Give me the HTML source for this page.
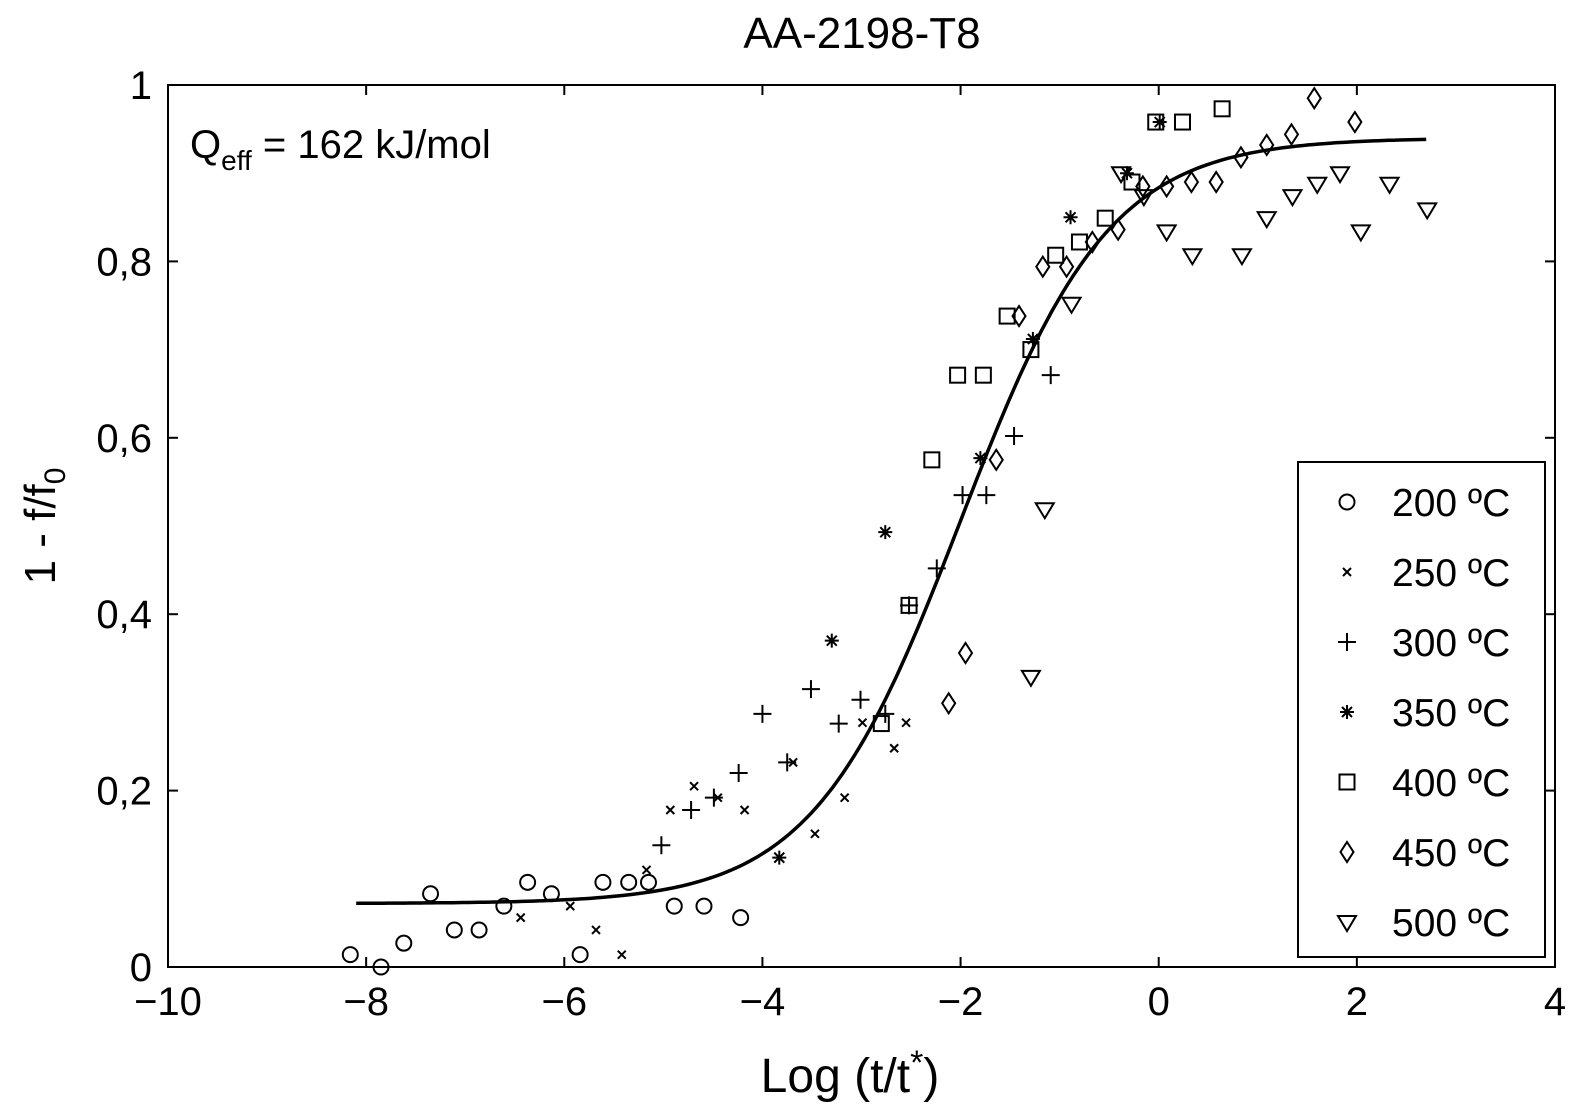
<!DOCTYPE html>
<html><head><meta charset="utf-8"><style>
body{margin:0;background:#fff}
svg{display:block;font-family:"Liberation Sans",Arial,sans-serif}
</style></head><body>
<svg id="chart" width="1574" height="1111">
<text x="862" y="48" font-size="44" text-anchor="middle">AA-2198-T8</text>
<rect x="168" y="85" width="1387" height="882" fill="none" stroke="#000" stroke-width="2"/>
<g id="axes"></g>
<g id="marks"></g>
<text x="190" y="158" font-size="40">Q<tspan font-size="28" dy="12">eff</tspan><tspan dy="-12"> = 162 kJ/mol</tspan></text>
<text x="850" y="1092" font-size="48" text-anchor="middle">Log (t/t<tspan font-size="34" dy="-18">*</tspan><tspan dy="18">)</tspan></text>
<text transform="translate(55,526) rotate(-90)" font-size="44" text-anchor="middle">1 - f/f<tspan font-size="30" dy="10">0</tspan></text>
<rect x="1298" y="462" width="247" height="495" fill="#fff" stroke="#000" stroke-width="2"/>
<g id="legend"></g>
</svg>
<script>
const xTicks=[-10,-8,-6,-4,-2,0,2,4];
const yTicks=[0,0.2,0.4,0.6,0.8,1];
const yTickLabels=["0","0,2","0,4","0,6","0,8","1"];
const seriesNames=["200 ºC","250 ºC","300 ºC","350 ºC","400 ºC","450 ºC","500 ºC"];
const seriesMarkers=["circle","x","plus","star","square","diamond","tri"];
const s200x=[-8.16,-7.85,-7.62,-7.35,-7.11,-6.86,-6.61,-6.37,-6.13,-5.84,-5.61,-5.35,-5.15,-4.89,-4.59,-4.22];
const s200y=[0.014,0,0.027,0.083,0.042,0.042,0.069,0.096,0.083,0.014,0.096,0.096,0.096,0.069,0.069,0.056];
const s250x=[-6.44,-5.94,-5.68,-5.42,-5.17,-4.93,-4.69,-4.45,-4.18,-3.69,-3.47,-3.17,-2.99,-2.67,-2.55];
const s250y=[0.056,0.069,0.042,0.014,0.11,0.178,0.205,0.192,0.178,0.232,0.151,0.192,0.277,0.248,0.277];
const s300x=[-5.02,-4.72,-4.49,-4.24,-4.00,-3.75,-3.51,-3.23,-3.01,-2.76,-2.52,-2.24,-1.98,-1.74,-1.46,-1.09];
const s300y=[0.138,0.178,0.192,0.22,0.287,0.232,0.315,0.276,0.303,0.287,0.41,0.452,0.535,0.535,0.602,0.671];
const s350x=[-3.83,-3.30,-2.76,-1.80,-1.27,-0.89,-0.32,0.01];
const s350y=[0.124,0.37,0.493,0.577,0.712,0.85,0.90,0.958];
const s400x=[-2.80,-2.52,-2.29,-2.03,-1.77,-1.53,-1.29,-1.04,-0.80,-0.54,-0.27,-0.03,0.24,0.64];
const s400y=[0.276,0.41,0.575,0.671,0.671,0.738,0.70,0.807,0.822,0.849,0.89,0.958,0.958,0.973];
const s450x=[-2.12,-1.95,-1.64,-1.41,-1.17,-0.93,-0.67,-0.41,-0.16,0.08,0.33,0.58,0.83,1.09,1.34,1.57,1.98];
const s450y=[0.299,0.356,0.575,0.738,0.794,0.794,0.822,0.836,0.885,0.885,0.89,0.89,0.918,0.932,0.944,0.985,0.958];
const s500x=[-1.29,-1.15,-0.88,-0.38,-0.15,0.08,0.34,0.84,1.09,1.35,1.60,1.83,2.04,2.33,2.71];
const s500y=[0.329,0.519,0.752,0.90,0.874,0.834,0.807,0.807,0.849,0.874,0.888,0.90,0.834,0.888,0.859];
const fitParams=[0.072,0.94,-2.0,0.75];
const fitRange=[-8.1,2.7];

const NS="http://www.w3.org/2000/svg";
const X=v=>168+(v+10)*1387/14;
const Y=v=>967-v*882;
function mk(tag,attrs,parent){const e=document.createElementNS(NS,tag);for(const k in attrs)e.setAttribute(k,attrs[k]);parent.appendChild(e);return e;}
const axes=document.getElementById('axes'),marks=document.getElementById('marks'),leg=document.getElementById('legend');
xTicks.forEach(t=>{
  const g=mk('g',{},axes);
  
  
  mk('line',{x1:X(t),x2:X(t),y1:967,y2:957,stroke:'#000','stroke-width':2},g);
  mk('line',{x1:X(t),x2:X(t),y1:85,y2:95,stroke:'#000','stroke-width':2},g);
  const tx=mk('text',{x:X(t),y:1015,'font-size':40,'text-anchor':'middle'},g);
  tx.textContent=(t<0?'\u2212'+(-t):''+t);
});
yTicks.forEach((t,i)=>{
  const g=mk('g',{},axes);
  
  
  mk('line',{x1:168,x2:178,y1:Y(t),y2:Y(t),stroke:'#000','stroke-width':2},g);
  mk('line',{x1:1555,x2:1545,y1:Y(t),y2:Y(t),stroke:'#000','stroke-width':2},g);
  const tx=mk('text',{x:152,y:Y(t)+14,'font-size':40,'text-anchor':'end'},g);
  tx.textContent=yTickLabels[i];
});
function marker(type,cx,cy,parent){
  const st={fill:'none',stroke:'#000','stroke-width':2};
  let e;
  if(type==='circle')e=mk('circle',Object.assign({cx,cy,r:7.5},st),parent);
  else if(type==='x')e=mk('path',Object.assign({d:`M${cx-4} ${cy-4}L${cx+4} ${cy+4}M${cx-4} ${cy+4}L${cx+4} ${cy-4}`},st),parent);
  else if(type==='plus')e=mk('path',Object.assign({d:`M${cx-9} ${cy}H${cx+9}M${cx} ${cy-9}V${cy+9}`},st),parent);
  else if(type==='star')e=mk('path',Object.assign({d:`M${cx-7} ${cy}H${cx+7}M${cx} ${cy-7}V${cy+7}M${cx-5} ${cy-5}L${cx+5} ${cy+5}M${cx-5} ${cy+5}L${cx+5} ${cy-5}`},st),parent);
  else if(type==='square')e=mk('rect',Object.assign({x:cx-7.5,y:cy-7.5,width:15,height:15},st),parent);
  else if(type==='diamond')e=mk('path',Object.assign({d:`M${cx} ${cy-10}L${cx+6.5} ${cy}L${cx} ${cy+10}L${cx-6.5} ${cy}Z`},st),parent);
  else e=mk('path',Object.assign({d:`M${cx-9} ${cy-6}H${cx+9}L${cx} ${cy+9}Z`},st),parent);
  return e;
}
const allX=[s200x,s250x,s300x,s350x,s400x,s450x,s500x],allY=[s200y,s250y,s300y,s350y,s400y,s450y,s500y];
let d='';
const [a,b,x0,s]=fitParams;
for(let i=0;i<=200;i++){const x=fitRange[0]+(fitRange[1]-fitRange[0])*i/200;const y=a+(b-a)/(1+Math.exp(-(x-x0)/s));d+=(i?'L':'M')+X(x).toFixed(1)+' '+Y(y).toFixed(1);}
const fit=mk('path',{d,fill:'none',stroke:'#000','stroke-width':3.5},marks);


allX.forEach((xs,si)=>{
  xs.forEach((xv,j)=>{
    const m=marker(seriesMarkers[si],X(xv),Y(allY[si][j]),marks);
    
    
  });
  const g=mk('g',{},leg);
  
  
  const ly=502+si*70;
  marker(seriesMarkers[si],1347,ly,g);
  const t=mk('text',{x:1392,y:ly+14,'font-size':39},g);
  t.textContent=seriesNames[si];
});
</script>
</body></html>
